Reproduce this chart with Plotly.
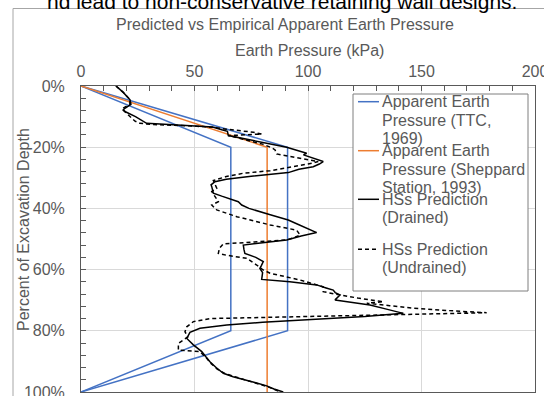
import plotly.graph_objects as go

# ---------------- data ----------------
ttc_inner_kpa = [0, 66, 66, 0]
ttc_outer_kpa = [0, 91, 91, 0]
ttc_depth = [0, 20, 80, 100]

sheppard_kpa = [0, 82, 82]
sheppard_depth = [0, 20, 100]

drained_depth = [0, 2, 4.5, 6, 7.2, 7.8, 8.5, 10, 12.2, 12.6, 13.1, 13.4, 14.3, 14.8, 16.2,
                 17.5, 19, 20, 21, 22, 22.5, 23.2, 24.7, 25.5, 26.4, 27.2, 28.3, 29.5, 30.5,
                 31.3, 32.3, 32.9, 35, 36, 37.3, 37.8, 38.9, 40, 42, 43.8, 45, 46.5, 47.9,
                 49, 50.3, 51.2, 52, 53.5, 54.7, 56, 57.4, 58.6, 59.6, 61, 63.2, 64, 65, 66,
                 66.7, 67.5, 68.3, 69.9, 70.8, 71.6, 73, 74.3, 75.3, 76.3, 77.2, 78.1, 79.2,
                 80.5, 82.5, 84.6, 86.8, 88.5, 90.1, 92, 93.9, 95, 96.1, 97, 98, 99, 100]
drained_kpa = [15.4, 18.5, 21.6, 22, 19.5, 18.6, 19.8, 24, 28.9, 40, 52, 58, 62, 64.5, 64.9,
               74, 84, 90.6, 95, 99.4, 98, 100.5, 106.7, 105, 102.3, 96, 91.3, 75, 64,
               59, 57.3, 57.6, 58.3, 62, 68, 69.3, 70.8, 74, 83, 91.3, 95, 100, 103.8,
               97, 90.6, 80, 71.5, 71.8, 72.2, 77, 80.3, 79.5, 78.8, 80, 79.6, 92, 103.8, 108,
               111.1, 112, 114.1, 111.9, 120, 127.3, 135, 142, 125, 100, 80, 64.2, 52.4,
               48, 46.6, 49.5, 53.2, 55, 56.8, 59.5, 62.7, 67, 73, 77, 81.8, 85, 89.1]

undrained_depth = [0, 2, 4.5, 6, 7.5, 8.4, 10.2, 11.5, 12.2, 12.6, 13.1, 13.5, 14.1, 14.7,
                   15.1, 15.7, 16.2, 17.5, 19, 20.2, 20.9, 22.2, 22.8, 23.5, 24.7, 25.5, 26.5,
                   27.7, 28.5, 29.6, 30.9, 32, 33.4, 34.5, 36, 37.8, 38.9, 40.5, 42.7, 44, 45.4,
                   47.1, 48.7, 49.5, 50.3, 51, 51.6, 53, 54.7, 55.3, 56.3, 58.5, 60, 61.2, 63.4,
                   65.6, 67.2, 68, 69.3, 70.5, 71, 71.8, 72.6, 73.4, 74.1, 76.0, 77, 78.7, 80.3,
                   82, 84.1, 86.3, 86.8, 89, 90.5, 92.5, 94, 96.2, 98.2, 100]
undrained_kpa = [15.4, 18.5, 21.6, 21.5, 18, 19.4, 22, 23.8, 26, 32, 50, 58, 64, 72,
                 75.9, 79.6, 64.9, 72, 80, 84, 85.5, 86.2, 90.6, 96, 104.5, 100, 92,
                 83.3, 71.5, 64, 58.3, 59, 59.8, 57.6, 59, 60.5, 57.6, 59.8, 68.6, 76, 83.3,
                 95, 96.5, 94, 90.6, 76, 62.7, 61, 60.5, 64, 73, 77.4, 80, 83.3, 96.5,
                 106.7, 106.7, 112, 122, 133.2, 125.9, 136, 146.4, 162, 178.7, 56.8, 49.5, 46.6, 45.8,
                 47, 42.9, 42.9, 52.4, 55.4, 57, 60, 63.5, 73, 82, 88]

x_ticks = [0, 50, 100, 150, 200]
y_ticks = [0, 20, 40, 60, 80, 100]
y_tick_labels = ["0%", "20%", "40%", "60%", "80%", "100%"]

legend_entries = [
    ("TTC", ["Apparent Earth", "Pressure (TTC,", "1969)"]),
    ("Sheppard", ["Apparent Earth", "Pressure (Sheppard", "Station, 1993)"]),
    ("Drained", ["HSs Prediction", "(Drained)"]),
    ("Undrained", ["HSs Prediction", "(Undrained)"]),
]

BLUE = "#4472C4"
ORANGE = "#ED7D31"
BLACK = "#000000"
GRAY = "#595959"
FONT = "Liberation Sans, Arial, sans-serif"
DASH = "4px,3px"

# ---------------- geometry helpers (pixel -> paper) ----------------
L, R, T, B = 81, 535, 86, 392
W, H = 544, 396


def px_x(p):
    return (p - L) / (R - L)


def px_y(p):
    return (B - p) / (B - T)


fig = go.Figure()
fig.add_trace(go.Scatter(x=ttc_inner_kpa, y=ttc_depth, mode="lines",
                         line=dict(color=BLUE, width=1.5), showlegend=False))
fig.add_trace(go.Scatter(x=ttc_outer_kpa, y=ttc_depth, mode="lines",
                         line=dict(color=BLUE, width=1.5), showlegend=False))
fig.add_trace(go.Scatter(x=sheppard_kpa, y=sheppard_depth, mode="lines",
                         line=dict(color=ORANGE, width=1.5), showlegend=False))
fig.add_trace(go.Scatter(x=undrained_kpa, y=undrained_depth, mode="lines",
                         line=dict(color=BLACK, width=1.5, dash=DASH), showlegend=False))
fig.add_trace(go.Scatter(x=drained_kpa, y=drained_depth, mode="lines",
                         line=dict(color=BLACK, width=1.5), showlegend=False))

shapes = []
annotations = []

# chart area frame
shapes.append(dict(type="rect", xref="paper", yref="paper",
                   x0=px_x(13), x1=px_x(560), y0=px_y(410), y1=px_y(8.5),
                   line=dict(color="#a6a6a6", width=1), fillcolor="rgba(0,0,0,0)", layer="below"))

# legend box
shapes.append(dict(type="rect", xref="paper", yref="paper",
                   x0=px_x(353), x1=px_x(528), y0=px_y(291), y1=px_y(94),
                   line=dict(color="#7f7f7f", width=1), fillcolor="white", layer="above"))

legend_styles = {
    "TTC": dict(color=BLUE, width=1.5),
    "Sheppard": dict(color=ORANGE, width=1.5),
    "Drained": dict(color=BLACK, width=1.5),
    "Undrained": dict(color=BLACK, width=1.5, dash=DASH),
}
legend_first_line_y = [101.7, 150.7, 199.3, 249.3]
line_step = 18.3
for (key, lines), y0 in zip(legend_entries, legend_first_line_y):
    shapes.append(dict(type="line", xref="paper", yref="paper",
                       x0=px_x(358), x1=px_x(379), y0=px_y(y0), y1=px_y(y0),
                       line=legend_styles[key], layer="above"))
    for i, txt in enumerate(lines):
        annotations.append(dict(text=txt, xref="paper", yref="paper",
                                x=px_x(380), y=px_y(y0 + i * line_step),
                                xanchor="left", yanchor="middle", showarrow=False,
                                font=dict(family=FONT, size=16, color=GRAY)))

# y axis title
annotations.append(dict(text="Percent of Excavation Depth", xref="paper", yref="paper",
                        x=px_x(23), y=px_y(230), textangle=-90, showarrow=False,
                        xanchor="center", yanchor="middle",
                        font=dict(family=FONT, size=16, color=GRAY)))
# x axis title
annotations.append(dict(text="Earth Pressure (kPa)", xref="paper", yref="paper",
                        x=px_x(309), y=px_y(51), showarrow=False,
                        xanchor="center", yanchor="middle",
                        font=dict(family=FONT, size=16, color=GRAY)))
# surrounding document text, cut off at top
annotations.append(dict(text="nd lead to non-conservative retaining wall designs.",
                        xref="paper", yref="paper", x=px_x(519), y=px_y(15),
                        xanchor="right", yanchor="bottom", showarrow=False,
                        font=dict(family=FONT, size=21, color="#000000")))

fig.update_layout(
    width=W, height=H,
    margin=dict(l=L, r=W - R, t=T, b=H - B, autoexpand=False),
    paper_bgcolor="white", plot_bgcolor="white",
    showlegend=False,
    title=dict(text="Predicted vs Empirical Apparent Earth Pressure",
               x=285 / W, y=1 - 24 / H, xanchor="center", yanchor="middle",
               font=dict(family=FONT, size=16, color=GRAY)),
    font=dict(family=FONT, size=16, color=GRAY),
    shapes=shapes, annotations=annotations,
)
fig.update_xaxes(range=[0, 200], side="top", tickvals=x_ticks,
                 showgrid=True, gridcolor="#d9d9d9", gridwidth=1,
                 showline=True, linecolor="#595959", linewidth=1, mirror=True,
                 ticks="inside", ticklen=5, tickcolor="#595959",
                 ticklabeloverflow="allow", ticklabelstandoff=2,
                 minor=dict(dtick=10, ticks="inside", ticklen=5, tickcolor="#595959", showgrid=False),
                 tickfont=dict(family=FONT, size=16, color=GRAY), zeroline=False)
fig.update_yaxes(range=[100, 0], tickvals=y_ticks, ticktext=y_tick_labels,
                 showgrid=True, gridcolor="#d9d9d9", gridwidth=1,
                 showline=True, linecolor="#595959", linewidth=1, mirror=True,
                 ticks="inside", ticklen=5, tickcolor="#595959",
                 ticklabeloverflow="allow", ticklabelstandoff=12,
                 minor=dict(dtick=4, ticks="inside", ticklen=5, tickcolor="#595959", showgrid=False),
                 tickfont=dict(family=FONT, size=16, color=GRAY), zeroline=False)

fig.write_html("out.html")
